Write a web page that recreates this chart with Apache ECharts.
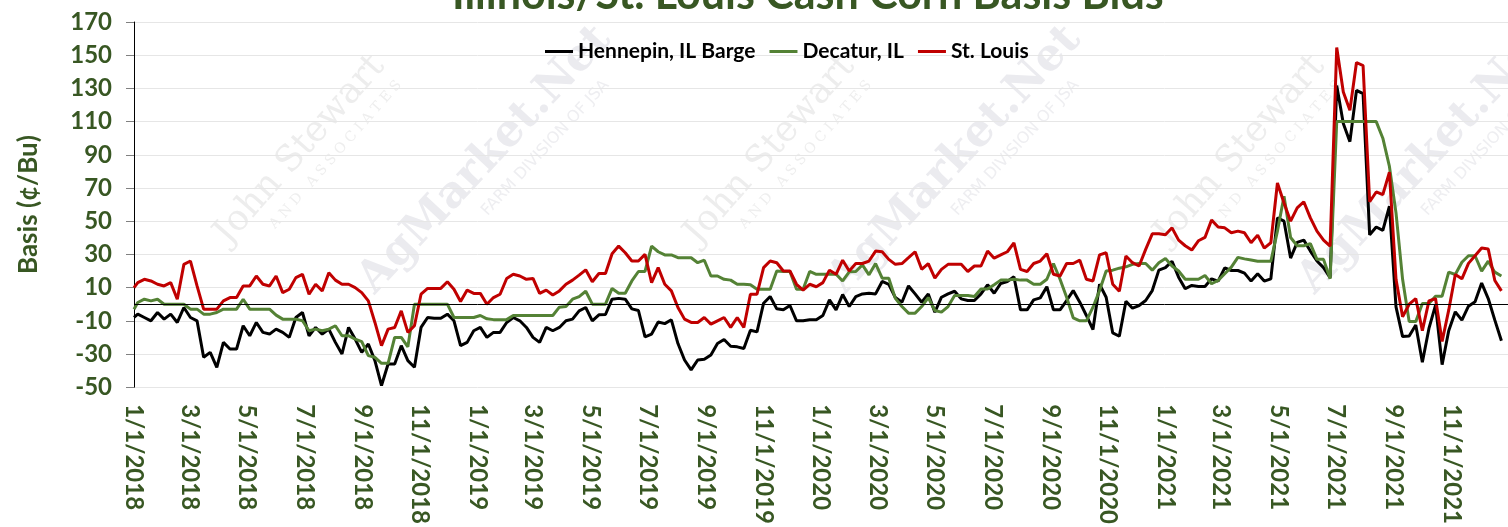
<!DOCTYPE html>
<html>
<head>
<meta charset="utf-8">
<script src="https://cdn.jsdelivr.net/npm/echarts@6/dist/echarts.min.js"></script>
<style>
html,body{margin:0;padding:0;background:#fff}
#main{width:1508px;height:527px}
</style>
</head>
<body>
<div id="main"></div>
<script>
// weekly bids, first point 1/1/2018 then every Friday from 1/5/2018
var firstPoint = '1/1/2018';
var firstWeek = '1/5/2018';

var hennepin = [-8,
  -6, -8, -10, -5, -9, -6, -11, -2, -8, -10,
  -32, -29, -38, -23, -27, -27, -13, -19, -11, -17,
  -18, -15, -17, -20, -8, -5, -19, -14, -18, -15,
  -23, -30, -14, -21, -29, -24, -34, -49, -36, -36,
  -25, -34, -38, -14, -8, -8.5, -8.5, -6, -10, -25,
  -23, -16, -14, -20, -17, -17, -11, -8, -10, -14,
  -20, -23, -14, -16, -14, -10, -9, -4, -2, -10,
  -6.4, -6.2, 3, 3.5, 3, -2.8, -3.8, -19.7, -18, -10.7,
  -11.7, -9.4, -23.7, -33.6, -39.6, -33.6, -33.2, -30.6, -23.7, -21.3,
  -25.3, -25.7, -26.7, -15.7, -16.7, 0.6, 4.6, -2.8, -3.4, -0.8,
  -10, -10, -9.4, -9.4, -6.8, 2.6, -3.4, 5.8, -1.4, 4.6,
  6.2, 6.6, 6.2, 13.7, 12, 4, 1.2, 11, 6.2, 1.2,
  6.2, -4.8, 4.2, 6.2, 7.8, 3.2, 2.2, 2.2, 6.2, 11.7,
  6.6, 12.5, 13.7, 16.5, -3.4, -3.4, 2.6, 3.8, 10.5, -3.4,
  -3.4, 2.2, 8.2, 1.2, -6.8, -15.3, 12, 4.2, -17.3, -19.3,
  1.8, -2.4, -0.8, 2.2, 8.2, 20.5, 22, 25.9, 16.3, 9.3,
  11.3, 10.7, 10.7, 15.3, 13.9, 21.9, 20.3, 20.3, 18.7, 13.9,
  18.3, 13.9, 15.3, 52, 50, 27.8, 37.2, 38.6, 32, 26,
  22, 16, 131.7, 108.9, 97.9, 128.8, 126.8, 41.8, 46.5, 44.5,
  59, -1.6, -19.5, -19.1, -12.5, -35, -14.6, -0.6, -36.4, -16,
  -4.6, -9.6, -1.2, 1.4, 12.7, 3.4, -9.6, -22];

var decatur = [-3,
  1, 3, 2, 3, 0, 0, 0, 0, -3, -3,
  -6, -6, -5, -3, -3, -3, 3, -3, -3, -3,
  -3, -6.6, -9, -9, -9, -10, -16, -15, -16, -15,
  -13, -19, -19, -21, -22.5, -31, -32, -35.6, -35.6, -20,
  -20, -25.7, 0, 0, 0, 0, 0, 0, -8, -8,
  -8, -8, -6.8, -8.8, -9.3, -9.3, -9.3, -6.8, -6.8, -6.8,
  -6.8, -6.8, -6.8, -6.8, -1.8, -1.4, 3, 4.6, 7.8, 0,
  0, 0, 9.5, 6.6, 6.6, 14, 19.7, 19.7, 35, 31.6,
  29.7, 29.7, 28, 28, 28, 25, 26.5, 17, 17, 15,
  14.5, 12, 12, 11.7, 9, 9, 9, 20, 19.7, 19.7,
  9, 9, 19.7, 18, 18, 18, 18, 14, 19.5, 19.7,
  23.7, 17.7, 24.5, 15.7, 15.7, 3.5, -1.4, -5.4, -5.4, -1.4,
  4, -3.8, -4.8, -1.4, 5.2, 5.2, 5.2, 4.6, 9.2, 9.2,
  11.7, 14.5, 14.5, 15, 14.5, 14.5, 12, 12, 15, 24.5,
  15, 4.2, -8.2, -10, -10, -1.8, 8.2, 20, 20.5, 21.7,
  22.5, 24, 24.5, 24.5, 20.5, 25, 27.5, 23, 20, 15,
  15, 15, 17.3, 12.3, 14.3, 18.3, 22.3, 28.2, 27.3, 26.6,
  25.9, 25.9, 25.9, 44, 65, 40.2, 35.2, 35.2, 36.5, 27,
  27, 15.3, 110, 110, 110, 110, 110, 110, 110, 100,
  83, 55, 15, -10.5, -10.5, 0.4, 0.4, 4.8, 4.8, 19.3,
  17.9, 25.3, 29.2, 29.2, 19.9, 25.9, 19.3, 17];

var stLouis = [10,
  13, 15, 14, 12, 11, 13, 3, 24, 26, 11,
  -3, -3, -3, 2, 4, 4, 11, 11, 17, 12,
  11, 17, 7, 9, 16, 18, 6, 12, 8, 19,
  14.5, 12, 12, 10, 7, 2, -11, -25, -15, -14,
  -4, -17, -13, 6, 9.5, 9.5, 9.5, 13.5, 9, 1.6,
  8.5, 6.5, 6.5, 0, 4, 6, 15.5, 18, 17, 15,
  15.5, 6.5, 8.5, 5.5, 8, 12, 14.5, 17.5, 20.7, 13.5,
  18.5, 18.5, 30.4, 35, 31, 26, 26, 30, 13, 22,
  12, 8, -2, -9, -11, -11, -8, -12, -10, -8,
  -14, -8, -14, 6, 6, 22, 26, 25, 20, 20,
  12, 8.5, 12, 10.5, 13, 20.5, 18, 26.5, 20, 24.5,
  24.5, 26, 32, 31.6, 27, 24, 24.5, 28, 31.6, 21,
  24.5, 15.7, 21, 24, 24, 24, 19.7, 23, 23, 32,
  27.7, 29.7, 31.6, 37, 21, 19.7, 24.5, 26, 30.4, 18,
  17, 24.5, 24.5, 26.5, 15, 14, 29.7, 31, 12, 7.8,
  29, 25, 23, 33, 42.4, 42.4, 41.8, 46, 38.6, 35.2,
  32.6, 38.2, 40.2, 50.7, 46.5, 46, 43, 44, 43, 37,
  41.6, 33.8, 37, 73, 61, 50, 58, 61.7, 52, 44,
  38.6, 35, 154.6, 127.8, 116.8, 145.6, 143.7, 61.7, 67.6, 66,
  79.6, 15, -7.6, 0, 3.4, -16, 2, 3.4, -22.5, -3.6,
  17.9, 15.3, 24.6, 29.2, 33.8, 33.2, 14.3, 8];

var xTickLabels = ['1/1/2018', '3/1/2018', '5/1/2018', '7/1/2018', '9/1/2018', '11/1/2018',
  '1/1/2019', '3/1/2019', '5/1/2019', '7/1/2019', '9/1/2019', '11/1/2019',
  '1/1/2020', '3/1/2020', '5/1/2020', '7/1/2020', '9/1/2020', '11/1/2020',
  '1/1/2021', '3/1/2021', '5/1/2021', '7/1/2021', '9/1/2021', '11/1/2021'];

var green = '#385723';

function toTime(s) {
  var p = s.split('/');
  return new Date(+p[2], +p[0] - 1, +p[1]).getTime();
}
function fmt(t) {
  var d = new Date(t);
  return (d.getMonth() + 1) + '/' + d.getDate() + '/' + d.getFullYear();
}

var dates = [toTime(firstPoint)];
var w0 = toTime(firstWeek);
for (var i = 1; i < stLouis.length; i++) {
  var d = new Date(w0);
  d.setDate(d.getDate() + 7 * (i - 1));
  dates.push(d.getTime());
}
function pairs(arr) {
  return arr.map(function (v, i) { return [dates[i], v]; });
}

// faint watermark text
var marks = [];
[0, 1, 2, 3].forEach(function (i) {
  marks.push({type: 'group', x: 300 + 470 * i, y: 150, rotation: 0.85, silent: true, z: 0, children: [
    {type: 'text', x: 0, y: 0, style: {text: 'John Stewart', fill: '#ededed', font: '36px "DejaVu Serif"', align: 'center', verticalAlign: 'middle'}},
    {type: 'text', x: 20, y: 30, style: {text: 'A N D   A S S O C I A T E S', fill: '#eeeeee', font: '14px "DejaVu Serif"', align: 'center', verticalAlign: 'middle'}}
  ]});
  marks.push({type: 'group', x: 485 + 470 * i, y: 160, rotation: 0.82, silent: true, z: 0, children: [
    {type: 'text', x: 0, y: 0, style: {text: 'AgMarket.Net', fill: '#ebebef', font: 'bold 44px "DejaVu Serif"', align: 'center', verticalAlign: 'middle'}},
    {type: 'text', x: 50, y: 36, style: {text: 'FARM DIVISION OF JSA', fill: '#eeeef1', font: '16px "DejaVu Sans"', align: 'center', verticalAlign: 'middle'}}
  ]});
});

var myChart = echarts.init(document.getElementById('main'));
var option = {
  animation: false,
  backgroundColor: '#fff',
  graphic: marks,
  title: {
    text: 'Illinois/St. Louis Cash Corn Basis Bids',
    left: 447, top: -31,
    textStyle: {color: green, fontFamily: 'Lato', fontWeight: 'bold', fontSize: 43}
  },
  legend: {
    left: 540, top: 36,
    icon: 'rect', itemWidth: 28, itemHeight: 3, itemGap: 14,
    textStyle: {fontFamily: 'Lato', fontWeight: 'bold', fontSize: 21, color: '#000'}
  },
  grid: {left: 134, top: 22, width: 1384, height: 369},
  xAxis: {
    type: 'value',
    min: toTime('1/1/2018'),
    max: toTime('12/31/2021'),
    axisLine: {show: false},
    axisTick: {show: false},
    splitLine: {show: false},
    axisLabel: {
      customValues: xTickLabels.map(toTime),
      formatter: function (v) { return fmt(v); },
      rotate: -90, margin: 17,
      color: green, fontFamily: 'Lato', fontWeight: 'bold', fontSize: 24
    }
  },
  yAxis: {
    type: 'value', min: -50, max: 170, interval: 20,
    name: 'Basis (¢/Bu)', nameLocation: 'middle', nameGap: 92,
    nameTextStyle: {color: green, fontFamily: 'Lato', fontWeight: 'bold', fontSize: 26},
    axisLine: {show: true, lineStyle: {color: '#000', width: 1}},
    axisTick: {show: true, length: 8, lineStyle: {color: '#808080'}},
    splitLine: {lineStyle: {color: '#e6e6e6'}},
    axisLabel: {color: green, fontFamily: 'Lato', fontWeight: 'bold', fontSize: 24, margin: 22}
  },
  series: [
    {name: 'Hennepin, IL Barge', type: 'line', data: pairs(hennepin), symbol: 'none',
      color: '#000', lineStyle: {width: 3, color: '#000'},
      markLine: {silent: true, symbol: 'none', label: {show: false},
        lineStyle: {color: '#000', width: 1, type: 'solid'}, data: [{yAxis: 0}]}},
    {name: 'Decatur, IL', type: 'line', data: pairs(decatur), symbol: 'none',
      color: '#548235', lineStyle: {width: 3, color: '#548235'}},
    {name: 'St. Louis', type: 'line', data: pairs(stLouis), symbol: 'none',
      color: '#c00000', lineStyle: {width: 3, color: '#c00000'}}
  ]
};
myChart.setOption(option);
</script>
</body>
</html>
